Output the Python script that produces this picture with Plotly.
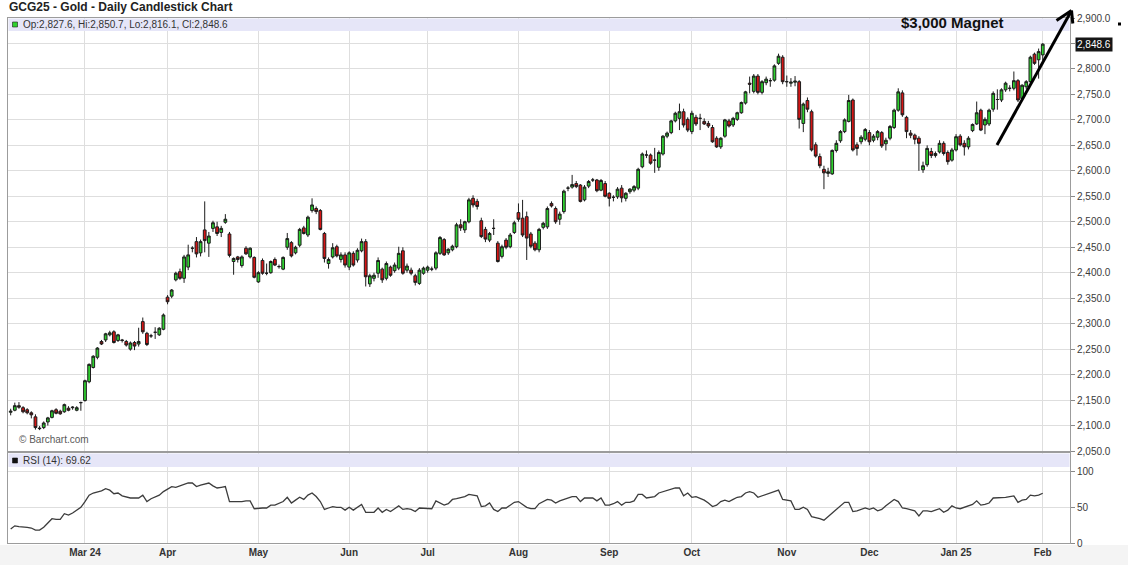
import pandas as pd
import plotly.graph_objects as go

# ---------------- data ----------------
HOLIDAYS = ["2024-02-19", "2024-03-29", "2024-05-27", "2024-06-19", "2024-07-04",
            "2024-09-02", "2024-11-28", "2024-12-25", "2025-01-01", "2025-01-20"]
DATES = [d.strftime("%Y-%m-%d") for d in pd.bdate_range("2024-02-05", "2025-02-03")
         if d.strftime("%Y-%m-%d") not in HOLIDAYS]

OPEN = [
    2126, 2130, 2139, 2135, 2131, 2125, 2117, 2095, 2096, 2107,
    2116, 2131, 2128, 2127, 2134, 2135, 2130, 2145, 2149, 2186,
    2214, 2234, 2265, 2268, 2278, 2284, 2267, 2268, 2265, 2250,
    2263, 2260, 2304, 2281, 2276, 2283, 2278, 2289, 2352, 2354,
    2386, 2402, 2389, 2411, 2448, 2461, 2439, 2484, 2458, 2487,
    2490, 2479, 2499, 2476, 2422, 2431, 2414, 2448, 2431, 2430,
    2382, 2424, 2399, 2400, 2426, 2412, 2407, 2450, 2459, 2439,
    2454, 2488, 2474, 2522, 2526, 2522, 2477, 2418, 2431, 2451,
    2426, 2435, 2411, 2438, 2425, 2443, 2461, 2378, 2389, 2399,
    2407, 2389, 2411, 2404, 2409, 2443, 2405, 2405, 2394, 2379,
    2399, 2405, 2407, 2409, 2438, 2465, 2439, 2445, 2451, 2494,
    2484, 2500, 2546, 2540, 2502, 2485, 2464, 2487, 2458, 2432,
    2464, 2451, 2479, 2518, 2507, 2510, 2476, 2458, 2445, 2489,
    2490, 2536, 2526, 2505, 2520, 2566, 2568, 2575, 2572, 2543,
    2570, 2582, 2582, 2562, 2575, 2556, 2548, 2549, 2566, 2546,
    2559, 2562, 2566, 2608, 2631, 2631, 2621, 2607, 2633, 2668,
    2675, 2698, 2703, 2716, 2701, 2677, 2705, 2703, 2697, 2693,
    2685, 2664, 2647, 2668, 2698, 2690, 2701, 2714, 2733, 2772,
    2756, 2786, 2754, 2773, 2777, 2778, 2811, 2823, 2775, 2772,
    2774, 2775, 2693, 2738, 2716, 2651, 2628, 2603, 2595, 2594,
    2640, 2659, 2677, 2697, 2739, 2651, 2657, 2662, 2675, 2660,
    2666, 2675, 2653, 2664, 2685, 2719, 2753, 2705, 2674, 2670,
    2664, 2602, 2612, 2638, 2630, 2637, 2654, 2636, 2621, 2641,
    2668, 2654, 2647, 2679, 2692, 2719, 2690, 2692, 2721, 2740,
    2739, 2759, 2762, 2762, 2777, 2742, 2765, 2775, 2829, 2818,
    2827.6]

HIGH = [
    2133, 2145, 2146, 2138, 2134, 2128, 2122, 2099, 2108, 2117,
    2131, 2134, 2131, 2143, 2138, 2138, 2138, 2147, 2190, 2222,
    2238, 2254, 2268, 2282, 2286, 2287, 2280, 2270, 2268, 2265,
    2266, 2292, 2312, 2284, 2280, 2293, 2293, 2320, 2356, 2368,
    2402, 2408, 2435, 2455, 2452, 2470, 2465, 2540, 2480, 2502,
    2500, 2492, 2515, 2480, 2430, 2433, 2434, 2452, 2450, 2432,
    2403, 2428, 2418, 2424, 2430, 2416, 2432, 2478, 2462, 2453,
    2488, 2492, 2512, 2546, 2530, 2525, 2480, 2430, 2458, 2455,
    2440, 2440, 2442, 2442, 2448, 2467, 2466, 2398, 2400, 2430,
    2410, 2422, 2414, 2420, 2451, 2450, 2418, 2410, 2398, 2409,
    2412, 2414, 2412, 2442, 2472, 2468, 2448, 2455, 2498, 2505,
    2502, 2547, 2552, 2545, 2508, 2490, 2480, 2505, 2462, 2455,
    2468, 2478, 2502, 2536, 2543, 2520, 2480, 2462, 2488, 2500,
    2530, 2540, 2530, 2520, 2563, 2570, 2592, 2580, 2574, 2572,
    2582, 2586, 2584, 2584, 2580, 2558, 2552, 2568, 2572, 2558,
    2566, 2572, 2606, 2636, 2640, 2634, 2645, 2640, 2670, 2677,
    2700, 2716, 2732, 2722, 2705, 2718, 2710, 2712, 2703, 2698,
    2690, 2668, 2666, 2702, 2702, 2706, 2716, 2736, 2757, 2785,
    2790, 2790, 2778, 2785, 2782, 2809, 2830, 2827, 2787, 2782,
    2786, 2778, 2734, 2744, 2720, 2656, 2634, 2610, 2606, 2642,
    2660, 2680, 2703, 2749, 2742, 2656, 2670, 2684, 2680, 2672,
    2680, 2678, 2665, 2690, 2722, 2762, 2758, 2708, 2680, 2673,
    2668, 2618, 2650, 2645, 2638, 2660, 2658, 2640, 2645, 2672,
    2672, 2660, 2668, 2693, 2736, 2722, 2705, 2722, 2756, 2760,
    2762, 2775, 2768, 2795, 2780, 2770, 2778, 2826, 2832, 2840,
    2850.7]

LOW = [
    2120, 2128, 2133, 2124, 2122, 2114, 2092, 2091, 2093, 2100,
    2114, 2122, 2121, 2125, 2128, 2131, 2128, 2129, 2147, 2183,
    2212, 2230, 2258, 2264, 2275, 2261, 2264, 2263, 2255, 2247,
    2248, 2255, 2280, 2256, 2272, 2270, 2276, 2287, 2338, 2350,
    2383, 2386, 2380, 2405, 2440, 2430, 2432, 2440, 2431, 2480,
    2472, 2470, 2496, 2430, 2396, 2420, 2410, 2435, 2428, 2389,
    2380, 2396, 2395, 2398, 2413, 2408, 2405, 2445, 2430, 2436,
    2450, 2475, 2470, 2518, 2515, 2483, 2420, 2408, 2428, 2430,
    2420, 2410, 2405, 2412, 2420, 2440, 2373, 2372, 2383, 2390,
    2380, 2385, 2392, 2400, 2405, 2396, 2400, 2395, 2375, 2376,
    2396, 2400, 2403, 2405, 2435, 2433, 2435, 2442, 2448, 2482,
    2478, 2497, 2528, 2524, 2468, 2460, 2460, 2474, 2420, 2428,
    2446, 2448, 2476, 2500, 2470, 2425, 2448, 2442, 2440, 2485,
    2486, 2528, 2496, 2494, 2516, 2560, 2565, 2566, 2538, 2540,
    2566, 2578, 2558, 2560, 2548, 2530, 2540, 2545, 2538, 2540,
    2555, 2558, 2562, 2605, 2625, 2612, 2596, 2600, 2630, 2664,
    2672, 2695, 2680, 2685, 2676, 2672, 2688, 2680, 2690, 2684,
    2655, 2645, 2643, 2665, 2685, 2686, 2698, 2712, 2730, 2752,
    2752, 2750, 2750, 2768, 2765, 2775, 2808, 2770, 2765, 2765,
    2766, 2683, 2676, 2715, 2638, 2626, 2605, 2564, 2588, 2592,
    2636, 2655, 2674, 2695, 2638, 2630, 2652, 2658, 2650, 2656,
    2660, 2645, 2640, 2660, 2682, 2716, 2706, 2664, 2664, 2652,
    2600, 2596, 2608, 2625, 2626, 2634, 2630, 2612, 2618, 2638,
    2648, 2630, 2642, 2676, 2690, 2678, 2672, 2688, 2716, 2720,
    2735, 2755, 2756, 2758, 2735, 2738, 2760, 2772, 2808, 2781,
    2816.1]

CLOSE = [
    2128, 2139, 2136, 2127, 2125, 2121, 2096, 2094, 2105, 2115,
    2129, 2124, 2123, 2141, 2130, 2136, 2135, 2145, 2188, 2220,
    2236, 2252, 2260, 2280, 2282, 2263, 2278, 2267, 2258, 2262,
    2256, 2265, 2284, 2259, 2276, 2283, 2291, 2317, 2343, 2366,
    2399, 2389, 2431, 2435, 2448, 2437, 2461, 2463, 2472, 2498,
    2477, 2487, 2505, 2434, 2428, 2426, 2431, 2437, 2448, 2391,
    2400, 2399, 2399, 2422, 2415, 2412, 2430, 2467, 2433, 2450,
    2485, 2477, 2509, 2533, 2520, 2485, 2428, 2426, 2449, 2433,
    2435, 2415, 2439, 2415, 2444, 2461, 2392, 2394, 2395, 2424,
    2386, 2418, 2395, 2415, 2438, 2399, 2413, 2399, 2381, 2405,
    2409, 2411, 2407, 2439, 2469, 2435, 2446, 2452, 2494, 2488,
    2500, 2543, 2533, 2530, 2471, 2466, 2477, 2487, 2422, 2451,
    2450, 2474, 2498, 2505, 2474, 2468, 2452, 2445, 2485, 2497,
    2526, 2531, 2500, 2515, 2560, 2566, 2573, 2569, 2540, 2568,
    2579, 2582, 2561, 2581, 2550, 2546, 2548, 2564, 2547, 2556,
    2564, 2569, 2603, 2633, 2631, 2615, 2621, 2636, 2668, 2674,
    2698, 2713, 2716, 2690, 2680, 2713, 2692, 2703, 2692, 2688,
    2657, 2647, 2664, 2700, 2688, 2703, 2714, 2734, 2755, 2770,
    2786, 2754, 2775, 2780, 2777, 2806, 2825, 2775, 2775, 2774,
    2776, 2701, 2731, 2721, 2641, 2629, 2610, 2596, 2598, 2640,
    2654, 2677, 2700, 2738, 2641, 2644, 2666, 2681, 2657, 2668,
    2677, 2649, 2660, 2687, 2719, 2755, 2710, 2677, 2670, 2662,
    2654, 2610, 2644, 2630, 2634, 2654, 2634, 2618, 2641, 2667,
    2651, 2647, 2664, 2691, 2714, 2680, 2701, 2719, 2752, 2740,
    2759, 2772, 2762, 2777, 2739, 2768, 2775, 2823, 2811, 2834,
    2848.6]

RSI = [
    19.5, 24, 23, 23, 22, 21, 18, 18, 22, 28,
    34, 33, 33, 41, 39, 42, 46, 50, 58, 67,
    70, 71, 73, 76, 74, 69, 70, 66, 64, 63,
    63, 63, 67, 58, 62, 64, 67, 72, 75, 79,
    78, 80, 83, 84, 84, 79, 81, 83, 84, 80,
    77, 78, 79, 58, 58, 57, 58, 59, 59, 48,
    49, 49, 49, 53, 53, 55, 58, 64, 56, 60,
    64, 61, 67, 70, 65, 58, 47, 49, 51, 50,
    50, 46, 50, 46, 50, 54, 43, 43, 43, 49,
    43, 47, 44, 48, 52, 47, 48, 47, 44, 49,
    49, 48, 48, 59, 56, 53, 55, 61, 62, 63,
    65, 68, 67, 66, 51, 52, 56, 47, 44, 49,
    49, 53, 57, 58, 54, 50, 48, 48, 55, 58,
    61, 60, 56, 59, 61, 64, 65, 65, 58, 63,
    63, 63, 59, 63, 53, 53, 55, 58, 53, 57,
    57, 59, 68, 68, 63, 64, 65, 70, 72, 74,
    75, 77, 77, 66, 70, 64, 65, 63, 60, 56,
    51, 53, 58, 60, 58, 61, 64, 65, 70, 72,
    70, 64, 66, 68, 69, 71, 74, 61, 60, 59,
    47, 47, 50, 47, 37, 36, 34, 32, 37, 43,
    48, 52, 57, 57, 44, 45, 47, 49, 47, 49,
    45, 47, 52, 56, 61, 58, 49, 48, 46, 45,
    38, 45, 45, 44, 46, 48, 43, 46, 52, 49,
    48, 50, 52, 54, 59, 53, 54, 56, 63, 63,
    64, 64, 65, 66, 57, 60, 61, 67, 66, 67,
    69.62]

TICK_MONTHS = ["2024-03", "2024-04", "2024-05", "2024-06", "2024-07", "2024-08",
               "2024-09", "2024-10", "2024-11", "2024-12", "2025-01", "2025-02"]
TICK_LABELS = ["Mar 24", "Apr", "May", "Jun", "Jul", "Aug",
               "Sep", "Oct", "Nov", "Dec", "Jan 25", "Feb"]
PRICE_TICKS = list(range(2050, 2901, 50))
RSI_TICKS = [0, 50, 100]

TITLE = "GCG25 - Gold - Daily Candlestick Chart"
LEGEND_TEXT = "Op:2,827.6, Hi:2,850.7, Lo:2,816.1, Cl:2,848.6"
RSI_TEXT = "RSI (14): 69.62"
LAST_PRICE = 2848.6

n = min(len(DATES), len(OPEN), len(HIGH), len(LOW), len(CLOSE), len(RSI))
DATES = DATES[:n]

tickvals = [next(d for d in DATES if d.startswith(m)) for m in TICK_MONTHS]

# ---------------- geometry helpers (pixel -> paper) ----------------
W, H = 1128, 565
ML, MR, MT, MB = 8, 58, 18, 22
PW, PH = W - ML - MR, H - MT - MB


def px(X):
    return (X - ML) / PW


def py(Y):
    return (H - MB - Y) / PH


FONT = "Liberation Sans, Arial, sans-serif"
GREEN = "#2fd12f"
RED = "#d41515"

fig = go.Figure()
fig.add_trace(go.Candlestick(
    x=DATES, open=OPEN[:n], high=HIGH[:n], low=LOW[:n], close=CLOSE[:n],
    xaxis="x", yaxis="y",
    increasing=dict(line=dict(color="#1c1c1c", width=1), fillcolor=GREEN),
    decreasing=dict(line=dict(color="#1c1c1c", width=1), fillcolor=RED),
    whiskerwidth=0, showlegend=False, hoverinfo="skip"))
fig.add_trace(go.Scatter(
    x=DATES, y=RSI[:n], xaxis="x2", yaxis="y2", mode="lines",
    line=dict(color="#3c3c3c", width=1.3), showlegend=False, hoverinfo="skip"))

xr = [-0.65, 256.6]
xcommon = dict(type="category", range=xr, tickmode="array", tickvals=tickvals,
               ticktext=["<b>%s</b>" % t for t in TICK_LABELS],
               showgrid=True, gridcolor="#dedede", gridwidth=1,
               showline=True, linecolor="#9c9c9c", linewidth=1, mirror=True,
               zeroline=False, ticks="", fixedrange=True)

fig.update_layout(
    width=W, height=H,
    margin=dict(l=ML, r=MR, t=MT, b=MB, pad=0),
    paper_bgcolor="white", plot_bgcolor="white",
    font=dict(family=FONT, size=10, color="#333333"),
    hovermode=False, showlegend=False, boxgap=0.05,
    xaxis=dict(**xcommon, anchor="y", showticklabels=False,
               rangeslider=dict(visible=False)),
    xaxis2=dict(**xcommon, anchor="y2", showticklabels=True, matches="x",
                tickfont=dict(family=FONT, size=10, color="#333333")),
    yaxis=dict(domain=[py(451), 1], range=[2050, 2900], side="right",
               tickmode="array", tickvals=PRICE_TICKS,
               ticktext=["{:,.1f}".format(v) for v in PRICE_TICKS],
               ticks="outside", ticklen=4, tickcolor="#8a8a8a",
               showgrid=True, gridcolor="#dedede", zeroline=False,
               showline=True, linecolor="#9c9c9c", mirror=True,
               tickfont=dict(family=FONT, size=10, color="#3a3a3a"), fixedrange=True),
    yaxis2=dict(domain=[0, py(453)], range=[0, 126], side="right",
                tickmode="array", tickvals=RSI_TICKS,
                ticks="outside", ticklen=4, tickcolor="#8a8a8a",
                showgrid=True, gridcolor="#dedede", zeroline=False,
                showline=True, linecolor="#9c9c9c", mirror=True,
                tickfont=dict(family=FONT, size=10, color="#3a3a3a"), fixedrange=True),
)

shapes = [
    # bottom grey strip under the time axis
    dict(type="rect", xref="paper", yref="paper", x0=px(0), x1=px(W), y0=py(H), y1=py(545),
         fillcolor="#f4f4f4", line=dict(width=0), layer="below"),
    # header bands
    dict(type="rect", xref="paper", yref="paper", x0=px(8.5), x1=px(1069.5), y0=py(31), y1=py(18.6),
         fillcolor="#e6e6f8", line=dict(width=0), layer="above"),
    dict(type="rect", xref="paper", yref="paper", x0=px(8.5), x1=px(1069.5), y0=py(467), y1=py(453.6),
         fillcolor="#e6e6f8", line=dict(width=0), layer="above"),
    # legend squares
    dict(type="rect", xref="paper", yref="paper", x0=px(12.5), x1=px(17.5), y0=py(27), y1=py(22),
         fillcolor=GREEN, line=dict(color="#1c1c1c", width=0.6), layer="above"),
    dict(type="rect", xref="paper", yref="paper", x0=px(12.5), x1=px(17.5), y0=py(463), y1=py(458),
         fillcolor="#111111", line=dict(color="#111111", width=0.6), layer="above"),
    # hand-drawn arrow
    dict(type="line", xref="paper", yref="paper", x0=px(997), y0=py(145), x1=px(1071), y1=py(11.5),
         line=dict(color="black", width=3), layer="above"),
    dict(type="line", xref="paper", yref="paper", x0=px(1056.5), y0=py(20.5), x1=px(1071.5), y1=py(10.5),
         line=dict(color="black", width=3), layer="above"),
    dict(type="line", xref="paper", yref="paper", x0=px(1071.5), y0=py(10.5), x1=px(1072.8), y1=py(23.5),
         line=dict(color="black", width=3), layer="above"),
    # stray dot at top right
    dict(type="rect", xref="paper", yref="paper", x0=px(1118), x1=px(1121), y0=py(25.5), y1=py(22.5),
         fillcolor="black", line=dict(width=0), layer="above"),
]
fig.update_layout(shapes=shapes)

annotations = [
    dict(text="<b>%s</b>" % TITLE, xref="paper", yref="paper", x=px(7), y=py(7.5),
         xanchor="left", yanchor="middle", showarrow=False,
         font=dict(family=FONT, size=12, color="#222222")),
    dict(text=LEGEND_TEXT, xref="paper", yref="paper", x=px(21), y=py(24.5),
         xanchor="left", yanchor="middle", showarrow=False,
         font=dict(family=FONT, size=10, color="#333333")),
    dict(text=RSI_TEXT, xref="paper", yref="paper", x=px(21), y=py(460.5),
         xanchor="left", yanchor="middle", showarrow=False,
         font=dict(family=FONT, size=10, color="#333333")),
    dict(text="© Barchart.com", xref="paper", yref="paper", x=px(17), y=py(439),
         xanchor="left", yanchor="middle", showarrow=False,
         font=dict(family=FONT, size=10, color="#5a5a5a")),
    dict(text="<b>$3,000 Magnet</b>", xref="paper", yref="paper", x=px(899), y=py(22),
         xanchor="left", yanchor="middle", showarrow=False,
         font=dict(family=FONT, size=15, color="#111111")),
    dict(text="{:,.1f}".format(LAST_PRICE), xref="paper", yref="y", x=px(1075), y=LAST_PRICE,
         xanchor="left", yanchor="middle", showarrow=False, bgcolor="#161616",
         borderpad=1, font=dict(family=FONT, size=10, color="white")),
]
fig.update_layout(annotations=annotations)

fig.write_html("out.html",
               config={"displayModeBar": False, "staticPlot": True},
               post_script="document.body.style.margin='0';document.body.style.padding='0';")
